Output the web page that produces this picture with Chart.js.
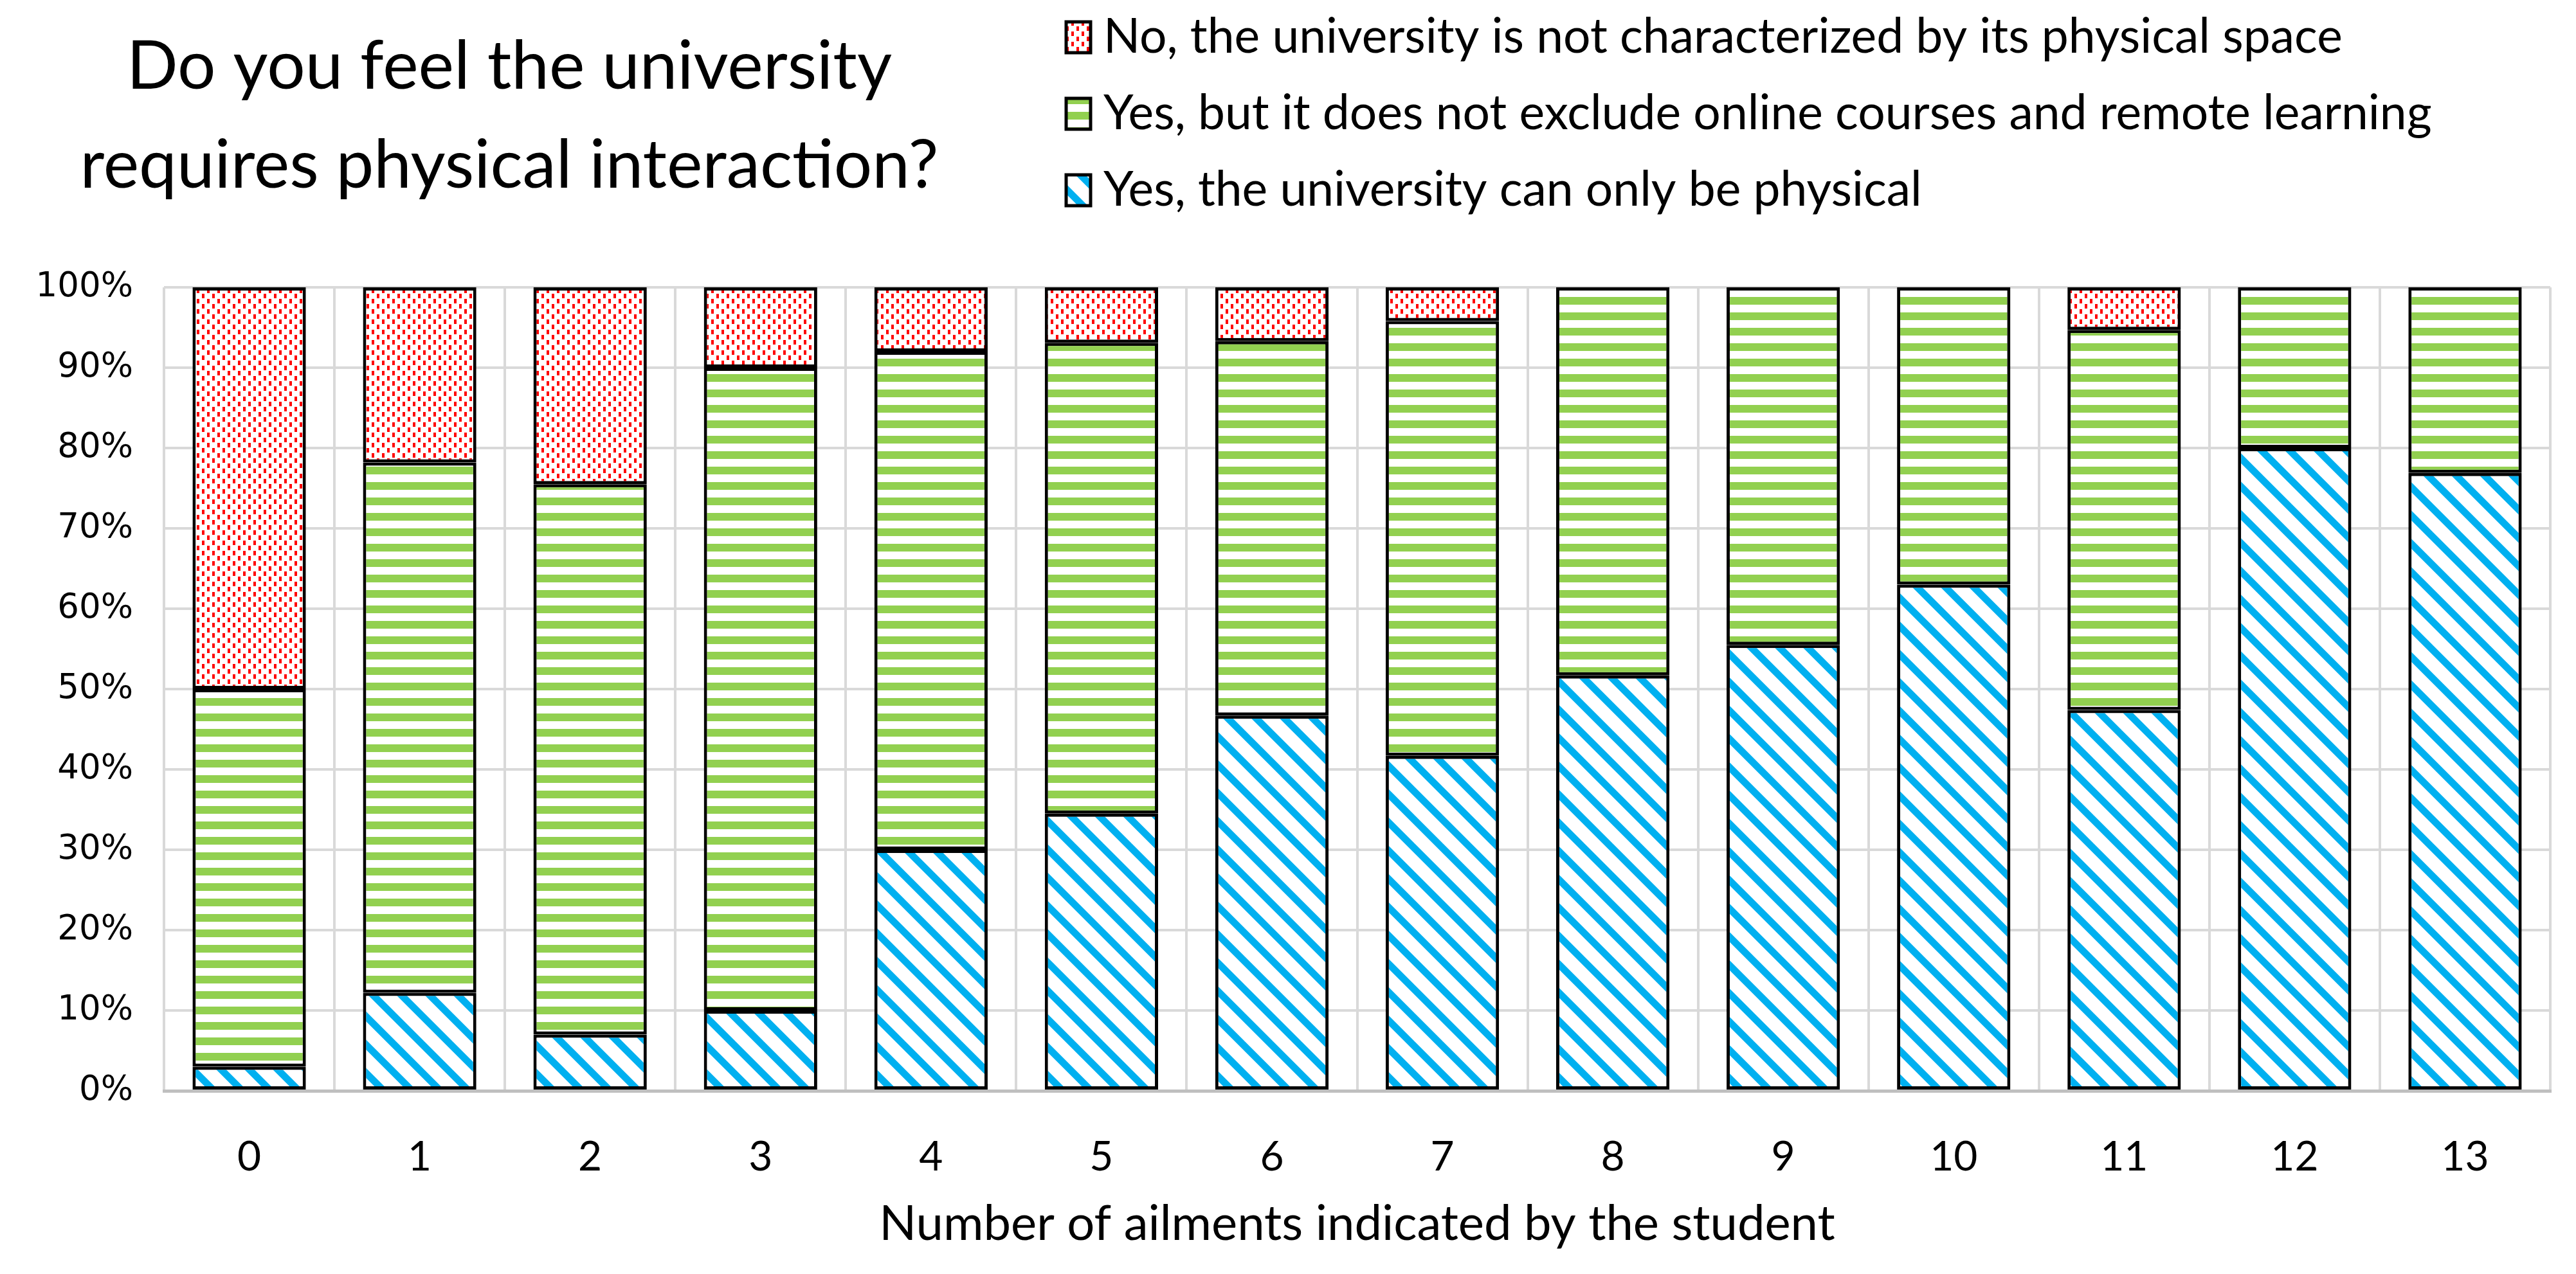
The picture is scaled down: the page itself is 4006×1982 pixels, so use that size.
<!DOCTYPE html>
<html>
<head>
<meta charset="utf-8">
<script src="https://cdn.jsdelivr.net/npm/chart.js@4.4.1/dist/chart.umd.min.js"></script>
<style>
  html, body { margin: 0; padding: 0; background: #fff; }
  #wrap { width: 4006px; height: 1982px; position: relative; }
</style>
</head>
<body>
<div id="wrap"><canvas id="ailments-chart"></canvas></div>
<script>
const categories = ['0', '1', '2', '3', '4', '5', '6', '7', '8', '9', '10', '11', '12', '13'];

const onlyPhysical = [3, 12.2, 7, 10, 30, 34.5, 46.7, 41.7, 51.7, 55.5, 63, 47.4, 80, 76.9];
const notExcludeOnline = [47, 66, 68.5, 80, 62, 58.6, 46.6, 54.1, 48.3, 44.5, 37, 47.3, 20, 23.1];
const notPhysical = [50, 21.8, 24.5, 10, 8, 6.9, 6.7, 4.2, 0, 0, 0, 5.3, 0, 0];

const seriesLabels = [
    'Yes, the university can only be physical',
    'Yes, but it does not exclude online courses and remote learning',
    'No, the university is not characterized by its physical space'
];

const yTicks = [0, 10, 20, 30, 40, 50, 60, 70, 80, 90, 100];

const titleLines = ['Do you feel the university', 'requires physical interaction?'];
const xTitle = 'Number of ailments indicated by the student';

function makeTile(w, h, draw) {
    const c = document.createElement('canvas');
    c.width = w;
    c.height = h;
    const cx = c.getContext('2d');
    cx.fillStyle = '#fff';
    cx.fillRect(0, 0, w, h);
    draw(cx, w, h);
    return document.querySelector('#ailments-chart').getContext('2d').createPattern(c, 'repeat');
}

// blue "\" diagonal stripes
const bluePattern = makeTile(44, 44, (cx, w, h) => {
    cx.strokeStyle = '#00b0f0';
    cx.lineWidth = 11;
    for (let k = -1; k <= 1; k++) {
        cx.beginPath();
        cx.moveTo(k * w - 4, -4);
        cx.lineTo(k * w + w + 4, h + 4);
        cx.stroke();
    }
});

// green horizontal stripes
const greenPattern = makeTile(24, 24, (cx, w) => {
    cx.fillStyle = '#92d050';
    cx.fillRect(0, 6, w, 12);
});

// red small dashes, staggered
const redPattern = makeTile(16, 16, (cx) => {
    cx.fillStyle = '#ff0000';
    cx.fillRect(2, 1, 4, 7);
    cx.fillRect(10, 9, 4, 7);
});

const headerPlugin = {
    id: 'header',
    afterDraw(chart) {
        const ctx = chart.ctx;
        ctx.save();
        ctx.fillStyle = '#000';
        ctx.textAlign = 'center';
        ctx.textBaseline = 'middle';
        ctx.font = '105px Lato';
        titleLines.forEach((t, i) => ctx.fillText(t, 792, 104 + i * 154));

        // legend, top to bottom in reverse stack order
        ctx.font = '75px Lato';
        ctx.textAlign = 'left';
        const ds = chart.data.datasets;
        for (let row = 0; row < ds.length; row++) {
            const d = ds[ds.length - 1 - row];
            const y = 58 + row * 119;
            ctx.fillStyle = d.backgroundColor;
            ctx.fillRect(1658, y - 24, 38, 48);
            ctx.lineWidth = 5;
            ctx.strokeStyle = '#000';
            ctx.strokeRect(1658, y - 24, 38, 48);
            ctx.fillStyle = '#000';
            ctx.fillText(d.label, 1716, y);
        }
        ctx.restore();
    }
};

const ctx = document.querySelector('#ailments-chart').getContext('2d');

new Chart(ctx, {
    type: 'bar',
    data: {
        labels: categories,
        datasets: [
            { label: seriesLabels[0], data: onlyPhysical, backgroundColor: bluePattern },
            { label: seriesLabels[1], data: notExcludeOnline, backgroundColor: greenPattern },
            { label: seriesLabels[2], data: notPhysical, backgroundColor: redPattern }
        ]
    },
    options: {
        responsive: true,
        maintainAspectRatio: false,
        devicePixelRatio: 1,
        animation: false,
        datasets: {
            bar: {
                borderColor: '#000',
                borderWidth: 5,
                borderSkipped: false,
                barPercentage: 0.665,
                categoryPercentage: 1
            }
        },
        layout: { padding: { top: 447, left: 50, right: 40, bottom: 32 } },
        scales: {
            x: {
                stacked: true,
                afterFit: (axis) => { axis.height = 253; },
                grid: { color: '#d9d9d9', lineWidth: 4, drawTicks: false, offset: true },
                border: { color: '#bfbfbf', width: 5 },
                ticks: { color: '#000', font: { family: 'Lato', size: 64 }, padding: 65 },
                title: {
                    display: true,
                    text: xTitle,
                    color: '#000',
                    font: { family: 'Lato', size: 76 },
                    padding: { top: 20, bottom: 0 }
                }
            },
            y: {
                stacked: true,
                min: 0,
                max: 100,
                afterBuildTicks: (axis) => { axis.ticks = yTicks.map(v => ({ value: v })); },
                afterFit: (axis) => { axis.width = 205; },
                grid: { color: '#d9d9d9', lineWidth: 4, drawTicks: false },
                border: { display: false },
                ticks: {
                    color: '#000',
                    font: { family: 'DejaVu Sans', size: 53 },
                    padding: 48,
                    callback: (v) => v + '%'
                }
            }
        },
        plugins: {
            legend: { display: false },
            title: { display: false },
            tooltip: { enabled: false }
        }
    },
    plugins: [headerPlugin]
});
</script>
</body>
</html>
